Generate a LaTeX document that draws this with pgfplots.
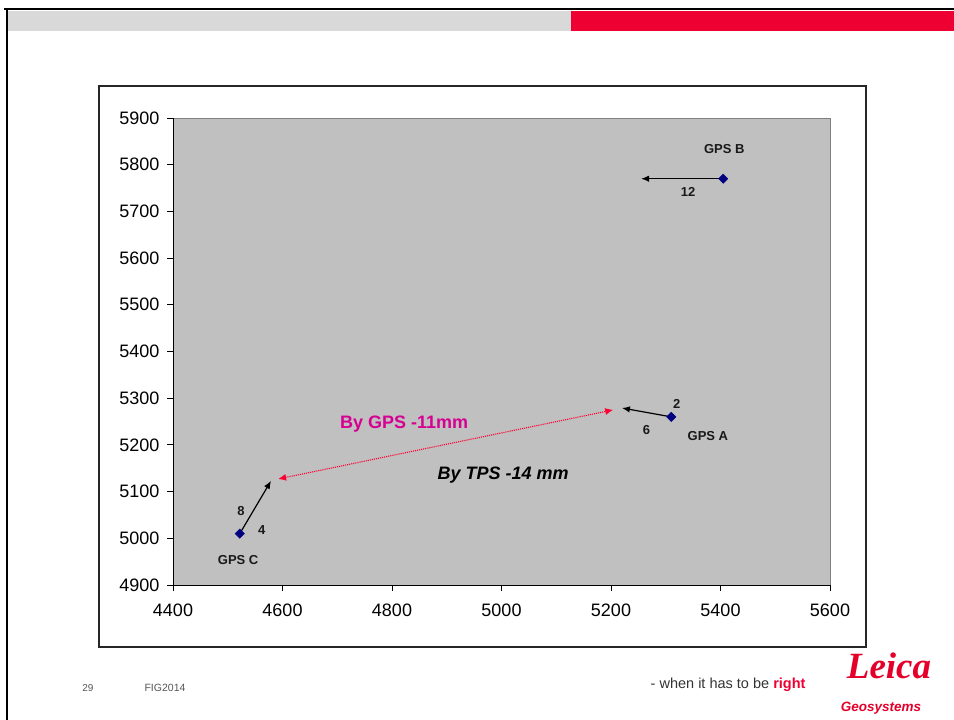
\documentclass[border=0pt]{standalone}
\usepackage{pgfplots}
\pgfplotsset{compat=1.18}
\usepackage{fontspec}
\setmainfont{Liberation Sans}
\newfontfamily\logoserif{Liberation Serif}
\usetikzlibrary{arrows.meta}

\definecolor{barGray}{RGB}{217,217,217}
\definecolor{barRed}{RGB}{238,0,51}
\definecolor{plotGray}{RGB}{192,192,192}
\definecolor{plotEdge}{RGB}{128,128,128}
\definecolor{navyMark}{RGB}{0,0,128}
\definecolor{gpsMagenta}{RGB}{214,0,147}
\definecolor{dotRed}{RGB}{255,0,51}
\definecolor{footGray}{RGB}{85,85,85}
\definecolor{leicaRed}{RGB}{228,0,43}

\begin{document}
\begin{tikzpicture}
% page extent
\path[use as bounding box] (0pt,0pt) rectangle (954pt,720pt);

% slide header bars and border
\fill[barGray] (6pt,709pt) rectangle (571pt,689pt);
\fill[barRed] (571pt,709pt) rectangle (954pt,689pt);
\draw[black, line width=2pt] (4pt,711pt) -- (954pt,711pt);
\draw[black, line width=2pt] (6.5pt,711pt) -- (6.5pt,0pt);

% chart frame
\draw[black!85, line width=1.3pt] (99pt,634pt) rectangle (866pt,73pt);

\begin{axis}[
  at={(173pt,135pt)}, anchor=south west,
  width=657pt, height=467pt, scale only axis,
  xmin=4400, xmax=5600, ymin=4900, ymax=5900,
  xtick distance=200, ytick distance=100,
  axis x line*=bottom, axis y line*=left,
  axis line style={black, line width=0.9pt},
  axis background/.style={fill=plotGray, draw=plotEdge, line width=0.9pt},
  tick align=outside, major tick length=6pt,
  tick style={black, line width=0.9pt},
  /pgf/number format/1000 sep={},
  /pgf/number format/assume math mode=true,
  tick label style={font=\fontsize{18}{18}\selectfont},
  yticklabel style={xshift=-4pt},
  xticklabel style={yshift=-9pt},
  clip=false,
]
% shift vectors
\addplot[black, line width=1.2pt, -{Latex[length=8pt,width=6.5pt]}]
  coordinates {(5405,5770) (5255,5770)};
\addplot[black, line width=1.2pt, -{Latex[length=8pt,width=6.5pt]}]
  coordinates {(5310,5260) (5220,5279)};
\addplot[black, line width=1.2pt, -{Latex[length=8pt,width=6.5pt]}]
  coordinates {(4522,5010) (4579,5123)};
% GPS vs TPS distance
\addplot[dotRed, line width=1.1pt, densely dotted,
  {Latex[length=8pt,width=7pt]}-{Latex[length=8pt,width=7pt]}]
  coordinates {(4592,5127) (5204,5275)};
% control points
\addplot[only marks, mark=square*, mark size=3.3pt,
  mark options={rotate=45}, navyMark]
  coordinates {(5310,5260) (5405,5770) (4522,5010)};

\begin{scope}[font=\fontsize{13}{13}\selectfont\bfseries, text=black!90]
\node at (axis cs:5407,5833) {GPS B};
\node at (axis cs:5341,5742) {12};
\node at (axis cs:5320,5288) {2};
\node at (axis cs:5265,5231) {6};
\node at (axis cs:5377,5218) {GPS A};
\node at (axis cs:4524,5059) {8};
\node at (axis cs:4562,5017) {4};
\node at (axis cs:4519,4953) {GPS C};
\end{scope}
\node[font=\fontsize{18}{18}\selectfont\bfseries, text=gpsMagenta]
  at (axis cs:4822,5245) {By GPS -11mm};
\node[font=\fontsize{18}{18}\selectfont\bfseries\itshape, text=black]
  at (axis cs:5003,5135) {By TPS -14 mm};
\end{axis}

% footer
\node[font=\fontsize{10}{10}\selectfont, text=footGray] at (88pt,32pt) {29};
\node[font=\fontsize{10.5}{10.5}\selectfont, text=footGray] at (165pt,32pt) {FIG2014};
\node[font=\fontsize{14.5}{14.5}\selectfont, text=black!80, anchor=east]
  at (809pt,35pt) {- when it has to be \textcolor{barRed}{\bfseries right}};
\node[font=\logoserif\fontsize{37}{37}\selectfont\bfseries\itshape, text=leicaRed]
  at (889pt,54pt) {Leica};
\node[font=\fontsize{13.5}{13.5}\selectfont\bfseries\itshape, text=leicaRed]
  at (881pt,12pt) {Geosystems};
\end{tikzpicture}
\end{document}
